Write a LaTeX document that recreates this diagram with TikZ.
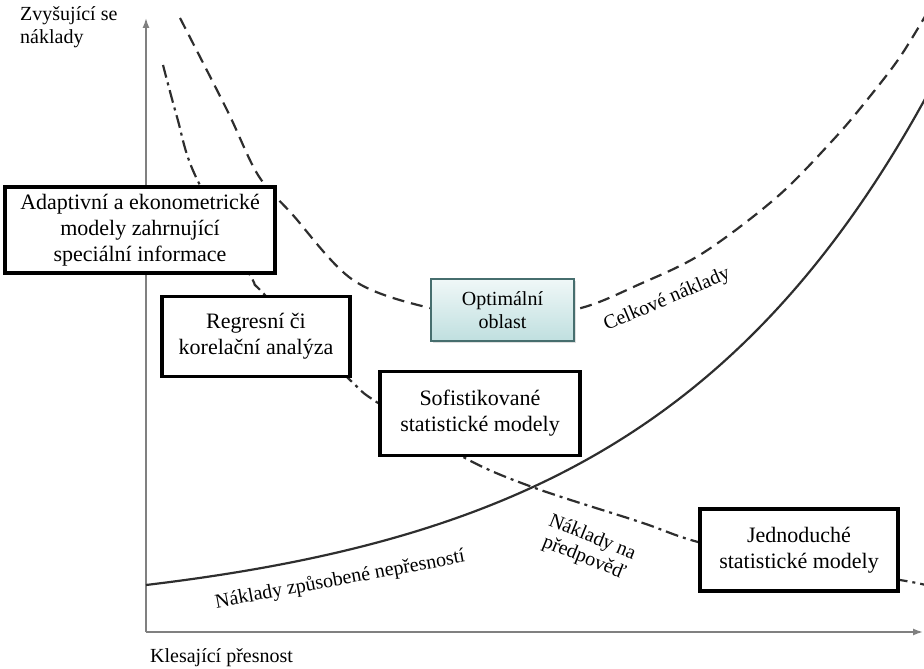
\documentclass[tikz,border=0pt]{standalone}
\usepackage{fontspec}
\setmainfont{Liberation Serif}
\usetikzlibrary{arrows.meta,shadows}
\begin{document}
\begin{tikzpicture}[x=1pt,y=-1pt,
  curve/.style={line width=2.2pt, color=black!82},
  dashcurve/.style={curve, dash pattern=on 12pt off 7pt},
  dashdotcurve/.style={curve, dash pattern=on 13pt off 5pt on 3pt off 5pt},
  axisline/.style={line width=1.5pt, color=black!50},
  axisarrow/.style={axisline, -{Latex[length=10pt,width=7pt]}},
  modelbox/.style={draw=black, line width=3.5pt, fill=white, align=center, inner sep=0pt, font=\fontsize{22}{26}\selectfont},
  optbox/.style={draw=black!30!teal!45!gray, line width=1.3pt, top color=teal!6, bottom color=teal!25, align=center, inner sep=0pt, font=\fontsize{20}{23}\selectfont, drop shadow={opacity=0.25, shadow xshift=2pt, shadow yshift=-2pt}},
  lbl/.style={font=\fontsize{20}{23}\selectfont, inner sep=0pt}
]
\useasboundingbox (0,0) rectangle (924,669);
\clip (0,0) rectangle (924,669);

% axes
\coordinate (o) at (146,632);
\coordinate (ytop) at (146,18);
\coordinate (xend) at (923,632);
\draw[axisarrow] (o) -- (ytop);
\draw[axisarrow] (o) -- (xend);

% curves
\draw[dashcurve] plot[smooth, tension=0.55] coordinates {(180,18) (227,110) (258,175) (292,214) (353,280) (430,308) (500,316) (577,309) (640,284) (703,253) (777,197) (833,140) (867,100) (900,57) (930,8)};
\draw[dashdotcurve] plot[smooth, tension=0.55] coordinates {(163,65) (177,117) (195,175) (250,275) (263,293) (350,380) (378,403) (465,458) (535,488) (640,522) (698,542) (800,565) (900,580) (930,586)};
\draw[curve] plot[domain=146:940, samples=90, smooth] (\x, {619.2 - 34.2*exp(0.0035*(\x-146))});

% boxes
\node[modelbox, minimum width=270pt, minimum height=86pt] (adapt) at (140,230) {Adaptivní a ekonometrické\\modely zahrnující\\speciální informace};
\node[modelbox, minimum width=188pt, minimum height=80pt] (regres) at (256,336.5) {Regresní či\\korelační analýza};
\node[modelbox, minimum width=200pt, minimum height=84pt] (sofist) at (480,413.5) {Sofistikované\\statistické modely};
\node[modelbox, minimum width=198pt, minimum height=82pt] (jedno) at (799,550) {Jednoduché\\statistické modely};
\node[optbox, minimum width=143pt, minimum height=62pt] (opt) at (502.5,310) {Optimální\\oblast};

% labels
\node[lbl, anchor=north west, align=left] (ylab) at (20,6) {Zvyšující se\\náklady};
\node[lbl, anchor=base west] (xlab) at (150,662) {Klesající přesnost};
\node[lbl, rotate=23] (celk) at (667,300) {Celkové náklady};
\node[lbl, anchor=base, rotate=10.5] (nepr) at (341,585) {Náklady způsobené nepřesností};
\node[lbl, rotate=-22, align=center, font=\fontsize{20}{22}\selectfont] (pred) at (588,548) {Náklady na\\předpověď};
\end{tikzpicture}
\end{document}
